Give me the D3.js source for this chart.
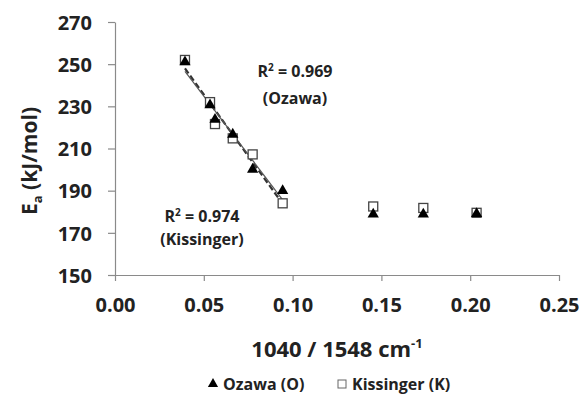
<!DOCTYPE html>
<html>
<head>
<meta charset="utf-8">
<script src="https://cdn.jsdelivr.net/npm/d3@7"></script>
<style>
  body { margin: 0; background: #fff; }
  text { font-family: "Open Sans", sans-serif; font-weight: bold; fill: #222; }
</style>
</head>
<body>
<div id="chart"></div>
<script>
// ratio 1040/1548 cm-1
const xRatio = [0.0394, 0.0535, 0.0563, 0.0663, 0.0775, 0.0944, 0.1454, 0.1736, 0.2036];
const ozawa = [251, 230.6, 223.8, 216.7, 200.1, 190, 178.8, 178.8, 179];
const kissinger = [252, 232, 221.6, 214.8, 207.2, 184, 182.5, 181.8, 179.5];
const fitCount = 6; // trend lines use the first six points
const xTicks = [0, 0.05, 0.10, 0.15, 0.20, 0.25];
const yTicks = [150, 170, 190, 210, 230, 250, 270];

const W = 581, H = 396;
const margin = { left: 115, right: 22, top: 22, bottom: 121 };

const svg = d3.select("#chart").append("svg")
  .attr("width", W).attr("height", H);

const x = d3.scaleLinear().domain([0, 0.25]).range([margin.left, W - margin.right]);
const y = d3.scaleLinear().domain([150, 270]).range([H - margin.bottom, margin.top]);

// axes
const xAxis = svg.append("g")
  .attr("transform", `translate(0,${y(150)})`)
  .call(d3.axisBottom(x).tickValues(xTicks).tickFormat(d3.format(".2f")).tickSize(6).tickSizeOuter(0));
const yAxis = svg.append("g")
  .attr("transform", `translate(${x(0)},0)`)
  .call(d3.axisLeft(y).tickValues(yTicks).tickSize(7).tickSizeOuter(0));

[xAxis, yAxis].forEach(g => {
  g.select(".domain").attr("stroke", "#8a8a8a").attr("stroke-width", 1.2);
  g.selectAll(".tick line").attr("stroke", "#8a8a8a").attr("stroke-width", 1.2);
  g.selectAll(".tick text").style("font-size", "20px").attr("fill", "#222");
});
xAxis.selectAll(".tick text").attr("y", 37).attr("dy", 0);
yAxis.selectAll(".tick text").attr("x", -23).attr("dy", "0.36em");

// trend lines (least squares over the first points)
function fit(ys) {
  const xs = xRatio.slice(0, fitCount), vs = ys.slice(0, fitCount);
  const mx = d3.mean(xs), my = d3.mean(vs);
  const b = d3.sum(xs, (d, i) => (d - mx) * (vs[i] - my)) / d3.sum(xs, d => (d - mx) ** 2);
  const a = my - b * mx;
  return [xs[0], xs[fitCount - 1]].map(v => [v, a + b * v]);
}
const line = d3.line().x(d => x(d[0])).y(d => y(d[1]));

svg.append("path").datum(fit(kissinger)).attr("d", line)
  .attr("fill", "none").attr("stroke", "#333").attr("stroke-width", 2.2)
  .attr("stroke-dasharray", "6,3");
svg.append("path").datum(fit(ozawa)).attr("d", line)
  .attr("fill", "none").attr("stroke", "#555").attr("stroke-width", 1.2);

// markers
const sq = 9;
svg.append("g").selectAll("rect")
  .data(xRatio.map((d, i) => [d, kissinger[i]]))
  .join("rect")
  .attr("x", d => x(d[0]) - sq / 2).attr("y", d => y(d[1]) - sq / 2)
  .attr("width", sq).attr("height", sq)
  .attr("fill", "#fff").attr("stroke", "#444").attr("stroke-width", 1.3);

const tri = d3.symbol().type(d3.symbolTriangle).size(55);
svg.append("g").selectAll("path")
  .data(xRatio.map((d, i) => [d, ozawa[i]]))
  .join("path")
  .attr("d", tri)
  .attr("transform", d => `translate(${x(d[0])},${y(d[1])})`)
  .attr("fill", "#000");

// annotations
function note(cx, cy, r2, name, cy2) {
  const t = svg.append("text").attr("x", cx).attr("y", cy)
    .attr("text-anchor", "middle").style("font-size", "16px");
  t.append("tspan").text("R");
  t.append("tspan").text("2").attr("dy", -6).style("font-size", "10px");
  t.append("tspan").text(" = " + r2).attr("dy", 6);
  svg.append("text").attr("x", cx).attr("y", cy2)
    .attr("text-anchor", "middle").style("font-size", "16px").text(name);
}
note(295, 77, "0.969", "(Ozawa)", 104);
note(202, 222, "0.974", "(Kissinger)", 245);

// axis titles
const xt = svg.append("text").attr("x", 337).attr("y", 357)
  .attr("text-anchor", "middle").style("font-size", "22px");
xt.append("tspan").text("1040 / 1548 cm");
xt.append("tspan").text("-1").attr("dy", -9).style("font-size", "13px");

const yt = svg.append("text")
  .attr("transform", "translate(37,161) rotate(-90)")
  .attr("text-anchor", "middle").style("font-size", "21px");
yt.append("tspan").text("E");
yt.append("tspan").text("a").attr("dy", 5).style("font-size", "13px");
yt.append("tspan").text(" (kJ/mol)").attr("dy", -5);

// legend
const leg = svg.append("g").attr("transform", "translate(0,390)");
leg.append("path").attr("d", d3.symbol().type(d3.symbolTriangle).size(45))
  .attr("transform", "translate(213,-6)").attr("fill", "#000");
leg.append("text").attr("x", 223).attr("y", 0).style("font-size", "16px").text("Ozawa (O)");
leg.append("rect").attr("x", 338).attr("y", -10).attr("width", 8).attr("height", 8)
  .attr("fill", "#fff").attr("stroke", "#666").attr("stroke-width", 1);
leg.append("text").attr("x", 352).attr("y", 0).style("font-size", "16px").text("Kissinger (K)");
</script>
</body>
</html>
